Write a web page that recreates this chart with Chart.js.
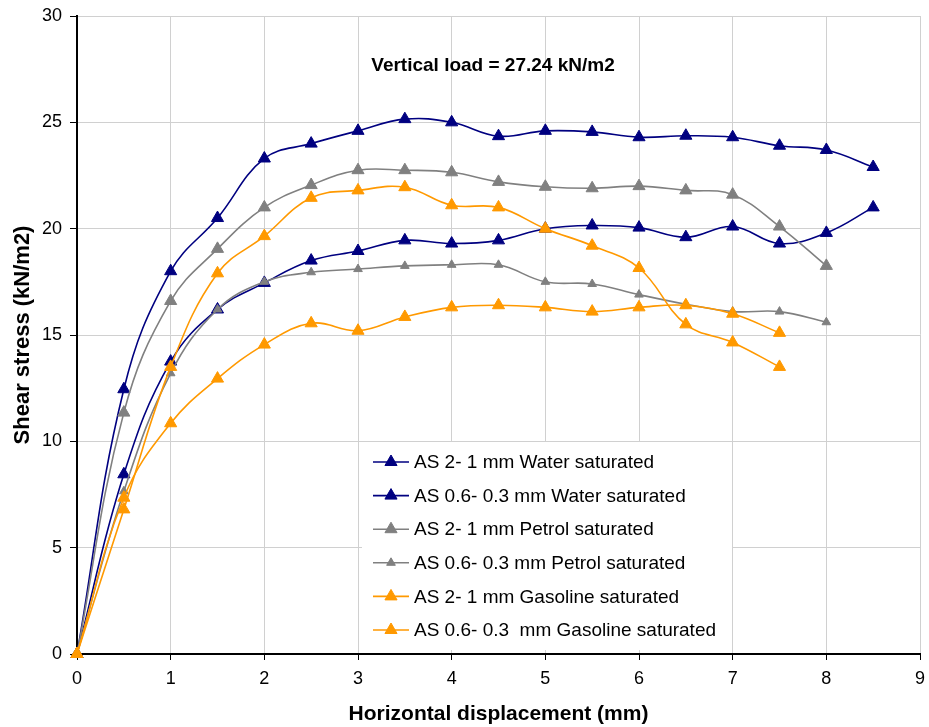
<!DOCTYPE html>
<html>
<head>
<meta charset="utf-8">
<script src="https://cdn.jsdelivr.net/npm/chart.js@4/dist/chart.umd.min.js"></script>
<style>
  html, body { margin: 0; padding: 0; background: #fff; }
  #wrap { width: 929px; height: 727px; position: relative; }
</style>
</head>
<body>
<div id="wrap"><canvas id="c" width="929" height="727"></canvas></div>
<script>
// ---- Data ----
const xLong  = [0, 0.5, 1, 1.5, 2, 2.5, 3, 3.5, 4, 4.5, 5, 5.5, 6, 6.5, 7, 7.5, 8, 8.5];
const xPetrol21 = [0, 0.5, 1, 1.5, 2, 2.5, 3, 3.5, 4, 4.5, 5, 5.5, 6, 6.5, 7, 7.5, 8];
const xPetrol063 = [0, 0.5, 1, 1.5, 2, 2.5, 3, 3.5, 4, 4.5, 5, 5.5, 6, 6.5, 7, 7.5, 8];
const xGasoline = [0, 0.5, 1, 1.5, 2, 2.5, 3, 3.5, 4, 4.5, 5, 5.5, 6, 6.5, 7, 7.5];

const water21   = [0, 12.45, 18.0, 20.5, 23.3, 24.0, 24.6, 25.15, 25.0, 24.35, 24.6, 24.55, 24.3, 24.37, 24.3, 23.9, 23.7, 22.9];
const water063  = [0, 8.45, 13.75, 16.2, 17.45, 18.5, 18.95, 19.45, 19.3, 19.45, 20.0, 20.15, 20.05, 19.6, 20.1, 19.3, 19.8, 21.0];
const petrol21  = [0, 11.35, 16.6, 19.05, 21.0, 22.05, 22.75, 22.75, 22.65, 22.2, 21.97, 21.9, 22.0, 21.8, 21.6, 20.1, 18.25];
const petrol063 = [0, 7.65, 13.2, 16.2, 17.5, 17.95, 18.1, 18.25, 18.3, 18.3, 17.5, 17.4, 16.9, 16.45, 16.1, 16.1, 15.6];
const gasoline21  = [0, 6.8, 13.5, 17.9, 19.65, 21.45, 21.8, 21.95, 21.1, 21.0, 20.0, 19.2, 18.15, 15.5, 14.65, 13.5];
const gasoline063 = [0, 7.35, 10.85, 12.95, 14.55, 15.55, 15.2, 15.85, 16.3, 16.4, 16.3, 16.1, 16.3, 16.4, 16.0, 15.1];

const seriesNames = [
  'AS 2- 1 mm Water saturated',
  'AS 0.6- 0.3 mm Water saturated',
  'AS 2- 1 mm Petrol saturated',
  'AS 0.6- 0.3 mm Petrol saturated',
  'AS 2- 1 mm Gasoline saturated',
  'AS 0.6- 0.3  mm Gasoline saturated'
];
const annotationText = 'Vertical load = 27.24 kN/m2';
const xTitle = 'Horizontal displacement (mm)';
const yTitle = 'Shear stress (kN/m2)';

const NAVY = '#000080', GRAY = '#808080', ORANGE = '#FF9900';

function pts(xs, ys) { return xs.map((x, i) => ({ x: x, y: ys[i] })); }

function ds(label, xs, ys, color, radius, idx) {
  return {
    label: label,
    data: pts(xs, ys),
    borderColor: color,
    backgroundColor: color,
    borderWidth: 1.6,
    pointStyle: 'triangle',
    pointRadius: radius,
    pointBorderWidth: 1,
    pointBackgroundColor: color,
    pointBorderColor: color,
    tension: 0.4,
    fill: false,
    clip: false,
    order: 10 - idx
  };
}

const datasets = [
  ds(seriesNames[0], xLong, water21, NAVY, 7, 0),
  ds(seriesNames[1], xLong, water063, NAVY, 7, 1),
  ds(seriesNames[2], xPetrol21, petrol21, GRAY, 7, 2),
  ds(seriesNames[3], xPetrol063, petrol063, GRAY, 5, 3),
  ds(seriesNames[4], xGasoline, gasoline21, ORANGE, 7, 4),
  ds(seriesNames[5], xGasoline, gasoline063, ORANGE, 7, 5)
];

const FONT = '"Liberation Sans", Arial, sans-serif';

const overlay = {
  id: 'overlay',
  afterDatasetsDraw(chart) {
    const ctx = chart.ctx;
    ctx.save();
    // annotation text
    ctx.font = 'bold 19px ' + FONT;
    ctx.fillStyle = '#000';
    ctx.textAlign = 'center';
    ctx.textBaseline = 'middle';
    ctx.fillText(annotationText, 493, 66);

    // legend box (white background, no border)
    const lx = 362, ly = 442, lw = 370, lh = 208;
    ctx.fillStyle = '#fff';
    ctx.fillRect(lx, ly, lw, lh);
    const rowH = 33.6;
    ctx.font = '19px ' + FONT;
    ctx.textAlign = 'left';
    chart.data.datasets.forEach((d, i) => {
      const cy = ly + 20 + i * rowH;
      ctx.strokeStyle = d.borderColor;
      ctx.lineWidth = 1.6;
      ctx.beginPath();
      ctx.moveTo(373, cy);
      ctx.lineTo(409, cy);
      ctx.stroke();
      const r = (i === 3) ? 5 : 7;
      ctx.fillStyle = d.borderColor;
      ctx.strokeStyle = d.borderColor;
      ctx.lineWidth = 1;
      Chart.helpers.drawPoint(ctx, { pointStyle: 'triangle', radius: r, borderWidth: 1 }, 391, cy);
      ctx.fillStyle = '#000';
      ctx.fillText(d.label, 414, cy + 1);
    });
    ctx.restore();
  }
};

new Chart(document.getElementById('c'), {
  type: 'line',
  data: { datasets: datasets },
  options: {
    responsive: false,
    animation: false,
    devicePixelRatio: 1,
    layout: { padding: { top: 16, right: 9, left: 0, bottom: 0 } },
    plugins: {
      legend: { display: false },
      tooltip: { enabled: false },
      title: { display: false }
    },
    scales: {
      x: {
        type: 'linear',
        min: 0, max: 9,
        ticks: { stepSize: 1, color: '#000', font: { family: FONT, size: 18 }, padding: 8 },
        grid: { color: '#d0d0d0', lineWidth: 1, tickColor: '#000', tickLength: 6, drawTicks: true },
        border: { color: '#000', width: 2 },
        title: { display: true, text: xTitle, color: '#000', font: { family: FONT, size: 21, weight: 'bold' }, padding: { top: 3, bottom: 0 } },
        afterFit(scale) { scale.height = 73; scale.paddingRight = 0; scale.paddingLeft = 0; }
      },
      y: {
        type: 'linear',
        min: 0, max: 30,
        ticks: { stepSize: 5, color: '#000', font: { family: FONT, size: 18 }, padding: 8 },
        grid: { color: '#d0d0d0', lineWidth: 1, tickColor: '#000', tickLength: 7, drawTicks: true },
        border: { color: '#000', width: 2 },
        title: { display: true, text: yTitle, color: '#000', font: { family: FONT, size: 22, weight: 'bold' }, padding: { top: 10, bottom: 0 } },
        afterFit(scale) { scale.width = 77; scale.paddingTop = 0; scale.paddingBottom = 0; }
      }
    }
  },
  plugins: [overlay]
});
</script>
</body>
</html>
